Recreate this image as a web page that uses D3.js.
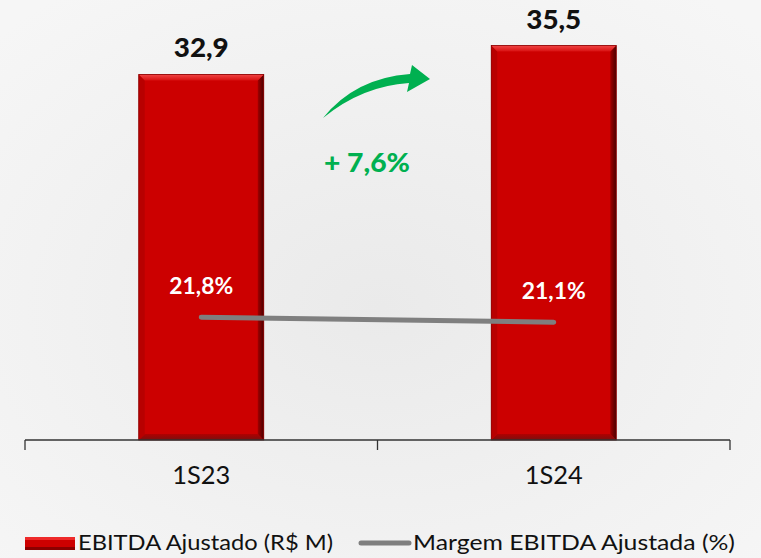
<!DOCTYPE html>
<html>
<head>
<meta charset="utf-8">
<script src="https://cdn.jsdelivr.net/npm/d3@7"></script>
<style>
body { margin: 0; background: #f2f2f2; }
svg { display: block; }
</style>
</head>
<body>
<div id="chart"></div>
<script>
var categories = ['1S23', '1S24']
var ebitda = [32.9, 35.5]
var ebitdaLabels = ['32,9', '35,5']
var margem = [21.8, 21.1]
var margemLabels = ['21,8%', '21,1%']
var growthLabel = '+ 7,6%'
var legendLabels = ['EBITDA Ajustado (R$ M)', 'Margem EBITDA Ajustada (%)']

var W = 761, H = 558
var font = "'Lato', 'Liberation Sans', sans-serif"

var svg = d3.select('#chart').append('svg')
	.attr('width', W)
	.attr('height', H)

var defs = svg.append('defs')
var bg = defs.append('radialGradient').attr('id', 'bg')
	.attr('cx', '50%').attr('cy', '55%').attr('r', '70%')
bg.append('stop').attr('offset', '0%').attr('stop-color', '#eaeaea')
bg.append('stop').attr('offset', '100%').attr('stop-color', '#f6f6f6')

var topG = defs.append('linearGradient').attr('id', 'topbev')
	.attr('x1', 0).attr('y1', 0).attr('x2', 0).attr('y2', 1)
topG.append('stop').attr('offset', '0%').attr('stop-color', '#f04545')
topG.append('stop').attr('offset', '100%').attr('stop-color', '#d81010')
var rightG = defs.append('linearGradient').attr('id', 'rightbev')
	.attr('x1', 0).attr('y1', 0).attr('x2', 1).attr('y2', 0)
rightG.append('stop').attr('offset', '0%').attr('stop-color', '#a00000')
rightG.append('stop').attr('offset', '100%').attr('stop-color', '#4a0000')
var botG = defs.append('linearGradient').attr('id', 'botbev')
	.attr('x1', 0).attr('y1', 0).attr('x2', 0).attr('y2', 1)
botG.append('stop').attr('offset', '0%').attr('stop-color', '#b00000')
botG.append('stop').attr('offset', '100%').attr('stop-color', '#7a1010')

svg.append('rect').attr('width', W).attr('height', H).attr('fill', 'url(#bg)')

var xScale = d3.scaleBand()
	.domain(categories)
	.range([25, 730])
	.padding(0)

var yScale = d3.scaleLinear()
	.domain([0, 39.6])
	.range([440, 0])

var y2Scale = d3.scaleLinear()
	.domain([4.6, 66.2])
	.range([440, 0])

var barW = 125
var bev = 6

// bars with a bevel look
categories.forEach(function(c, i) {
	var cx = xScale(c) + xScale.bandwidth() / 2
	var x0 = cx - barW / 2, x1 = cx + barW / 2
	var y0 = yScale(ebitda[i]), y1 = yScale(0)
	var g = svg.append('g')
	g.append('rect')
		.attr('x', x0).attr('y', y0)
		.attr('width', barW).attr('height', y1 - y0)
		.attr('fill', '#cc0000')
	var faces = [
		[[x0, y1], [x1, y1], [x1 - bev, y1 - bev], [x0 + bev, y1 - bev], 'url(#botbev)'],
		[[x1, y0], [x1, y1], [x1 - bev, y1 - bev], [x1 - bev, y0 + bev], 'url(#rightbev)'],
		[[x0, y0], [x0 + bev, y0 + bev], [x0 + bev, y1 - bev], [x0, y1], '#b80000'],
		[[x0, y0], [x1, y0], [x1 - bev, y0 + bev], [x0 + bev, y0 + bev], 'url(#topbev)']
	]
	faces.forEach(function(f) {
		g.append('path')
			.attr('d', 'M' + f.slice(0, 4).map(function(p) { return p.join(',') }).join('L') + 'Z')
			.attr('fill', f[4])
	})
	g.append('rect')
		.attr('x', x0).attr('y', y0)
		.attr('width', barW).attr('height', y1 - y0)
		.attr('fill', 'none')
		.attr('stroke', '#8a0000').attr('stroke-width', 0.8)
	svg.append('text')
		.attr('x', cx).attr('y', y0 - 17)
		.attr('text-anchor', 'middle')
		.attr('textLength', 55).attr('lengthAdjust', 'spacingAndGlyphs')
		.style('font-family', font).style('font-weight', 900)
		.style('font-size', '27px').attr('fill', '#111')
		.text(ebitdaLabels[i])
})

// axis
var axis = svg.append('g').attr('stroke', '#333').attr('stroke-width', 1.3)
axis.append('line')
	.attr('x1', xScale.range()[0]).attr('x2', xScale.range()[1])
	.attr('y1', yScale(0)).attr('y2', yScale(0))
var bounds = categories.map(function(c) { return xScale(c) }).concat([xScale.range()[1]])
bounds.forEach(function(b) {
	axis.append('line').attr('x1', b).attr('x2', b)
		.attr('y1', yScale(0)).attr('y2', yScale(0) + 10)
})
categories.forEach(function(c) {
	svg.append('text')
		.attr('x', xScale(c) + xScale.bandwidth() / 2)
		.attr('y', 484)
		.attr('text-anchor', 'middle')
		.attr('textLength', 58).attr('lengthAdjust', 'spacingAndGlyphs')
		.style('font-family', font).style('font-weight', 400).style('font-size', '25px')
		.attr('fill', '#111')
		.text(c)
})

// margin line
var line = d3.line()
	.x(function(d, i) { return xScale(categories[i]) + xScale.bandwidth() / 2 })
	.y(function(d) { return y2Scale(d) })
svg.append('path')
	.datum(margem)
	.attr('d', line)
	.attr('fill', 'none')
	.attr('stroke', '#7f7f7f')
	.attr('stroke-width', 5)
	.attr('stroke-linecap', 'round')

margem.forEach(function(m, i) {
	svg.append('text')
		.attr('x', xScale(categories[i]) + xScale.bandwidth() / 2)
		.attr('y', y2Scale(m) - 23)
		.attr('text-anchor', 'middle')
		.attr('textLength', 64).attr('lengthAdjust', 'spacingAndGlyphs')
		.style('font-family', font).style('font-weight', 'bold')
		.style('font-size', '22px').attr('fill', '#fff')
		.text(margemLabels[i])
})

// growth arrow
svg.append('path')
	.attr('d', 'M323,118 Q355,78 410,74 L412,65 L430,79 L407,92 L409,83 Q362,86 323,118 Z')
	.attr('fill', '#00b050')
svg.append('text')
	.attr('x', 367).attr('y', 172)
	.attr('text-anchor', 'middle')
	.attr('textLength', 86).attr('lengthAdjust', 'spacingAndGlyphs')
	.style('font-family', font).style('font-weight', 900)
	.style('font-size', '26px').attr('fill', '#00b050')
	.text(growthLabel)

// legend
var lg = svg.append('g')
lg.append('rect').attr('x', 25).attr('y', 537).attr('width', 50).attr('height', 13).attr('fill', '#cc0000')
lg.append('rect').attr('x', 25).attr('y', 537).attr('width', 50).attr('height', 3).attr('fill', '#ee2a2a')
lg.append('rect').attr('x', 25).attr('y', 547).attr('width', 50).attr('height', 3).attr('fill', '#8a0000')
lg.append('text').attr('x', 78).attr('y', 550)
	.attr('textLength', 255).attr('lengthAdjust', 'spacingAndGlyphs')
	.style('font-family', font).style('font-weight', 400).style('font-size', '22px').attr('fill', '#111')
	.text(legendLabels[0])
lg.append('line').attr('x1', 361).attr('x2', 409).attr('y1', 543).attr('y2', 543)
	.attr('stroke', '#7f7f7f').attr('stroke-width', 5).attr('stroke-linecap', 'round')
lg.append('text').attr('x', 413).attr('y', 550)
	.attr('textLength', 322).attr('lengthAdjust', 'spacingAndGlyphs')
	.style('font-family', font).style('font-weight', 400).style('font-size', '22px').attr('fill', '#111')
	.text(legendLabels[1])
</script>
</body>
</html>
